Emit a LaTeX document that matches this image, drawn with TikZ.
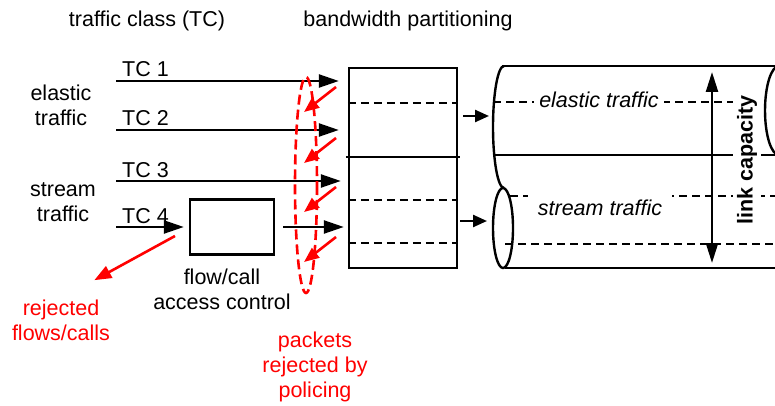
\documentclass[tikz,border=0pt]{standalone}
\usepackage{fontspec}
\setmainfont{Liberation Sans}
\usetikzlibrary{arrows.meta}

\newcommand{\figfont}{\fontsize{21.5}{25}\selectfont}

\tikzset{
  lbl/.style={inner sep=0pt, align=center},
  feed/.style={line width=2.4pt, -{Triangle[length=20pt,width=13pt]}},
  feedshort/.style={line width=2.4pt, -{Triangle[length=14pt,width=12pt]}},
  drop/.style={red, line width=2.6pt, -{Triangle[length=15pt,width=12pt]}},
  share/.style={line width=2.2pt, dash pattern=on 8pt off 5pt},
}

\begin{document}
\begin{tikzpicture}[x=1pt,y=-1pt,font=\figfont,line width=2.4pt]
    \useasboundingbox (0,0) rectangle (775,406);
    \clip (0,0) rectangle (775,406);

    % headings and class labels
    \node[lbl, anchor=base] (tchead) at (147,27) {traffic class (TC)};
    \node[lbl, anchor=base] (bwhead) at (408,27) {bandwidth partitioning};
    \node[lbl] (elastic) at (61,105) {elastic\\traffic};
    \node[lbl] (stream) at (63,202) {stream\\traffic};

    % incoming traffic classes
    \foreach \i/\y in {1/81,2/130,3/181,4/227} {
        \coordinate (in\i) at (116,\y);
        \node[lbl, anchor=base west] (tc\i) at (121,\y-4) {TC \i};
    }

    % access control and partition box
    \node[draw, minimum width=84pt, minimum height=55pt] (acc) at (232,227) {};
    \node[lbl] (acclab) at (222,289) {flow/call\\access control};
    \node[draw, inner sep=0pt, minimum width=108pt, minimum height=200pt] (bwbox) at (403,168) {};
    \draw[shorten <=-2pt, shorten >=-2pt] (bwbox.west |- 0,157) -- (bwbox.east |- 0,157);
    \foreach \y in {103,200,243}
        \draw[share] (bwbox.west |- 0,\y) -- (bwbox.east |- 0,\y);

    \draw[feed, shorten >=9pt] (in1) -- (in1 -| bwbox.west);
    \draw[feed, shorten >=9pt] (in2) -- (in2 -| bwbox.west);
    \draw[feed, shorten >=7pt] (in3) -- (in3 -| bwbox.west);
    \draw[feed, shorten >=5pt] (in4) -- (acc.west);
    \draw[feed, shorten <=8pt, shorten >=4pt] (acc.east) -- (acc.east -| bwbox.west);

    % policing
    \draw[red, line width=2.6pt, dash pattern=on 10pt off 5pt]
        (306,185) ellipse[x radius=11, y radius=108];
    \foreach \y [count=\i] in {87,138,187,237} {
        \coordinate (d\i) at (336,\y);
        \draw[drop] (d\i) -- ++(-32,25);
    }
    \node[lbl, red] (polab) at (315,367) {packets\\rejected by\\policing};

    % rejected flows
    \node[lbl, red] (rejlab) at (61,320) {rejected\\flows/calls};
    \coordinate (rejsrc) at (175,236);
    \draw[drop, -{Triangle[length=17pt,width=13pt]}, shorten >=38pt] (rejsrc) -- (rejlab.north);

    % link pipe
    \coordinate (elin) at (489,116);
    \coordinate (stin) at (487,221);
    \draw[feedshort, shorten <=5pt] (bwbox.east |- elin) -- (elin);
    \draw[feedshort, shorten <=2pt] (bwbox.east |- stin) -- (stin);

    \draw (502,66) -- (775,66);
    \draw (505,268) -- (775,268);
    \draw (504,66) arc[start angle=270, end angle=90, x radius=11, y radius=61];
    \draw (503,228) ellipse[x radius=10, y radius=40];
    \draw (493,155) -- (775,155);
    \draw[share] (493,102) -- (765,102);
    \draw[share] (510,196) -- (775,196);
    \draw[share] (505,244) -- (775,244);
    \draw (779,110.5) ellipse[x radius=14, y radius=44.5];

    \node[lbl, anchor=base, fill=white, inner xsep=5pt, inner ysep=4pt, font=\figfont\itshape]
        (eltxt) at (599,108) {elastic traffic};
    \node[lbl, anchor=base, fill=white, inner xsep=10pt, inner ysep=6pt, font=\figfont\itshape]
        (sttxt) at (600,215) {stream traffic};

    \coordinate (captop) at (712,72);
    \coordinate (capbot) at (712,263);
    \draw[{Triangle[length=20pt,width=12pt]}-{Triangle[length=20pt,width=12pt]}] (captop) -- (capbot);
    \node[lbl, fill=white, inner sep=4pt, rotate=90, font=\figfont\bfseries] (linkcap) at (747,160) {link capacity};
\end{tikzpicture}
\end{document}
